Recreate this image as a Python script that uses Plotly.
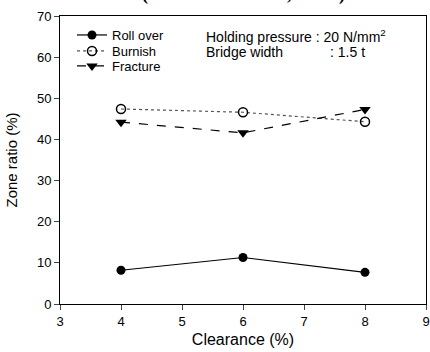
import plotly.graph_objects as go

clearance = [4, 6, 8]
roll_over = [8.2, 11.3, 7.7]
burnish = [47.4, 46.6, 44.3]
fracture = [44.2, 41.6, 47.3]

x_ticks = [3, 4, 5, 6, 7, 8, 9]
y_ticks = [0, 10, 20, 30, 40, 50, 60, 70]

FONT = "Liberation Sans, Arial, sans-serif"
L, T, PW, PH = 60, 16, 366, 288

fig = go.Figure()
fig.add_trace(go.Scatter(x=clearance, y=roll_over, name="Roll over", mode="lines+markers",
                         legend="legend",
                         line=dict(color="black", width=1.2, dash="solid"),
                         marker=dict(symbol="circle", size=9, color="black")))
fig.add_trace(go.Scatter(x=clearance, y=burnish, name="Burnish", mode="lines+markers",
                         legend="legend2",
                         line=dict(color="#555555", width=1.2, dash="dot"),
                         marker=dict(symbol="circle-open", size=9, color="black", line=dict(width=1.5))))
fig.add_trace(go.Scatter(x=clearance, y=fracture, name="Fracture", mode="lines+markers",
                         legend="legend3",
                         line=dict(color="black", width=1.2, dash="dash"),
                         marker=dict(symbol="triangle-down", size=10, color="black")))


def leg(ypix):
    return dict(x=12 / PW, y=1 - (ypix - T) / PH, xanchor="left", yanchor="middle",
                bgcolor="rgba(0,0,0,0)", font=dict(size=13, family=FONT), itemwidth=30)


fig.update_layout(
    width=430, height=352,
    margin=dict(l=L, r=430 - L - PW, t=T, b=352 - T - PH, autoexpand=False),
    paper_bgcolor="white", plot_bgcolor="white",
    font=dict(family=FONT, size=13, color="black"),
    showlegend=True,
    legend=leg(35), legend2=leg(51), legend3=leg(66),
    xaxis=dict(range=[3, 9], tickvals=x_ticks, ticks="outside", ticklen=5,
               showgrid=False, zeroline=False, showline=True, linecolor="black",
               linewidth=1, mirror=True, tickfont=dict(size=13), automargin=False,
               title=dict(text="Clearance (%)", font=dict(size=16), standoff=6)),
    yaxis=dict(range=[0, 70], tickvals=y_ticks, ticks="outside", ticklen=5,
               showgrid=False, zeroline=False, showline=True, linecolor="black",
               linewidth=1, mirror=True, tickfont=dict(size=13), automargin=False,
               title=dict(text="Zone ratio (%)", font=dict(size=15), standoff=15)),
)

ann_font = dict(size=14, family=FONT)
fig.add_annotation(xref="paper", yref="paper", x=(205 - L) / PW, y=1 - (36 - T) / PH,
                   xanchor="left", yanchor="middle", showarrow=False, font=ann_font,
                   borderpad=0, text="Holding pressure : 20 N/mm<sup>2</sup>")
fig.add_annotation(xref="paper", yref="paper", x=(205 - L) / PW, y=1 - (52 - T) / PH,
                   xanchor="left", yanchor="middle", showarrow=False, font=ann_font,
                   borderpad=0, text="Bridge width")
fig.add_annotation(xref="paper", yref="paper", x=(329 - L) / PW, y=1 - (52 - T) / PH,
                   xanchor="left", yanchor="middle", showarrow=False, font=ann_font,
                   borderpad=0, text=": 1.5 t")

fig.add_annotation(xref="paper", yref="paper", x=0.5, y=1.0, yshift=9, xanchor="center", yanchor="bottom",
                   showarrow=False, font=dict(size=18, family="Liberation Serif, serif"),
                   text="<b>(effect of clearance, SCP1)</b>")

fig.write_html("out.html", config={"displayModeBar": False},
               post_script="document.body.style.margin='0';document.body.style.padding='0';")
